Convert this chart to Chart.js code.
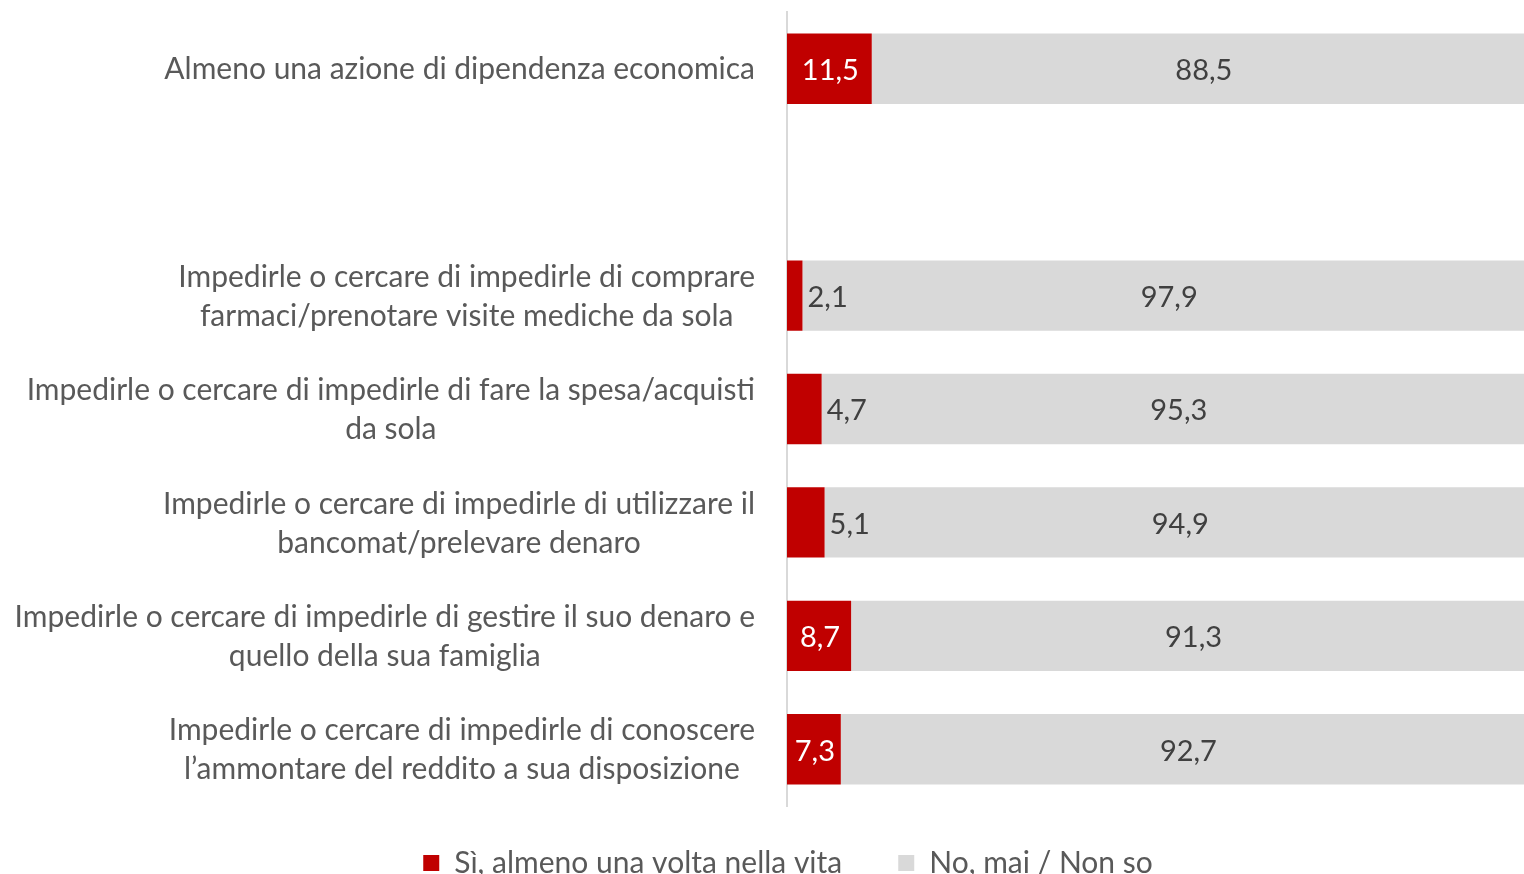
<!DOCTYPE html>
<html>
<head>
<meta charset="utf-8">
<script src="https://cdn.jsdelivr.net/npm/chart.js@4/dist/chart.umd.min.js"></script>
<style>
  html, body { margin: 0; padding: 0; background: #fff; }
  canvas { display: block; }
</style>
</head>
<body>
<canvas id="chart" width="1524" height="874"></canvas>
<script>
// categorie (righe), la seconda e' vuota come nell'originale
const categories = [
  ['Almeno una azione di dipendenza economica'],
  [],
  ['Impedirle o cercare di impedirle di comprare', 'farmaci/prenotare visite mediche da sola'],
  ['Impedirle o cercare di impedirle di fare la spesa/acquisti', 'da sola'],
  ['Impedirle o cercare di impedirle di utilizzare il', 'bancomat/prelevare denaro'],
  ['Impedirle o cercare di impedirle di gestire il suo denaro e', 'quello della sua famiglia'],
  ['Impedirle o cercare di impedirle di conoscere', 'l’ammontare del reddito a sua disposizione']
];
const siValues = [11.5, null, 2.1, 4.7, 5.1, 8.7, 7.3];
const noValues = [88.5, null, 97.9, 95.3, 94.9, 91.3, 92.7];
const seriesNames = ['Sì, almeno una volta nella vita', 'No, mai / Non so'];

const FONT = 'Lato, "Open Sans", sans-serif';
const FSIZE = 30;      // etichette e legenda
const VSIZE = 29;      // valori
const RED = '#C00000';
const GREY = '#D9D9D9';

const fmt = v => v.toFixed(1).replace('.', ',');

// etichette categoria: blocco allineato a destra, righe centrate
const categoryLabels = {
  id: 'categoryLabels',
  afterDraw(chart) {
    const ctx = chart.ctx, y = chart.scales.y, area = chart.chartArea;
    ctx.save();
    ctx.font = FSIZE + 'px ' + FONT;
    ctx.fillStyle = '#595959';
    ctx.textAlign = 'center';
    ctx.textBaseline = 'middle';
    const lineH = 39;
    categories.forEach((lines, i) => {
      if (!lines.length) return;
      const cy = y.getPixelForValue(i);
      const w = Math.max(...lines.map(l => ctx.measureText(l).width));
      const cx = area.left - 32 - w / 2;
      const top = cy - (lines.length - 1) * lineH / 2;
      lines.forEach((l, k) => ctx.fillText(l, cx, top + k * lineH + 1));
    });
    ctx.restore();
  }
};

// valori sulle barre
const valueLabels = {
  id: 'valueLabels',
  afterDatasetsDraw(chart) {
    const ctx = chart.ctx;
    ctx.save();
    ctx.font = VSIZE + 'px ' + FONT;
    ctx.textBaseline = 'middle';
    chart.data.datasets.forEach((ds, di) => {
      chart.getDatasetMeta(di).data.forEach((bar, i) => {
        const v = ds.data[i];
        if (v == null) return;
        const left = Math.min(bar.x, bar.base), right = Math.max(bar.x, bar.base);
        if (di === 0 && v < 7) {
          ctx.fillStyle = '#404040';
          ctx.textAlign = 'left';
          ctx.fillText(fmt(v), right + 5, bar.y + 2);
        } else {
          ctx.fillStyle = di === 0 ? '#fff' : '#404040';
          ctx.textAlign = 'center';
          ctx.fillText(fmt(v), (left + right) / 2 + (di === 1 ? 6 : 1), bar.y + 2);
        }
      });
    });
    ctx.restore();
  }
};

new Chart(document.getElementById('chart'), {
  type: 'bar',
  data: {
    labels: categories.map(l => l.join(' ')),
    datasets: [
      { label: seriesNames[0], data: siValues, backgroundColor: RED,
        barPercentage: 0.62, categoryPercentage: 1 },
      { label: seriesNames[1], data: noValues, backgroundColor: GREY,
        barPercentage: 0.62, categoryPercentage: 1 }
    ]
  },
  options: {
    indexAxis: 'y',
    responsive: false,
    animation: false,
    layout: { padding: { top: 12, left: 52, right: 0, bottom: -28 } },
    scales: {
      x: {
        stacked: true, min: 0, max: 100,
        ticks: { display: false },
        grid: { display: false },
        border: { display: false },
        // la legenda ha padding largo (spazio tra le voci): recupero l'altezza qui
        afterFit: s => { s.height = -14; }
      },
      y: {
        stacked: true,
        ticks: { display: false },
        grid: { display: false },
        border: { display: true, color: GREY, width: 2 },
        afterFit: s => { s.width = 735; }
      }
    },
    plugins: {
      legend: {
        position: 'bottom',
        labels: {
          boxWidth: 16, boxHeight: 16, padding: 56,
          color: '#595959',
          font: { size: FSIZE, family: FONT }
        }
      },
      tooltip: { enabled: false }
    }
  },
  plugins: [categoryLabels, valueLabels]
});
</script>
</body>
</html>
